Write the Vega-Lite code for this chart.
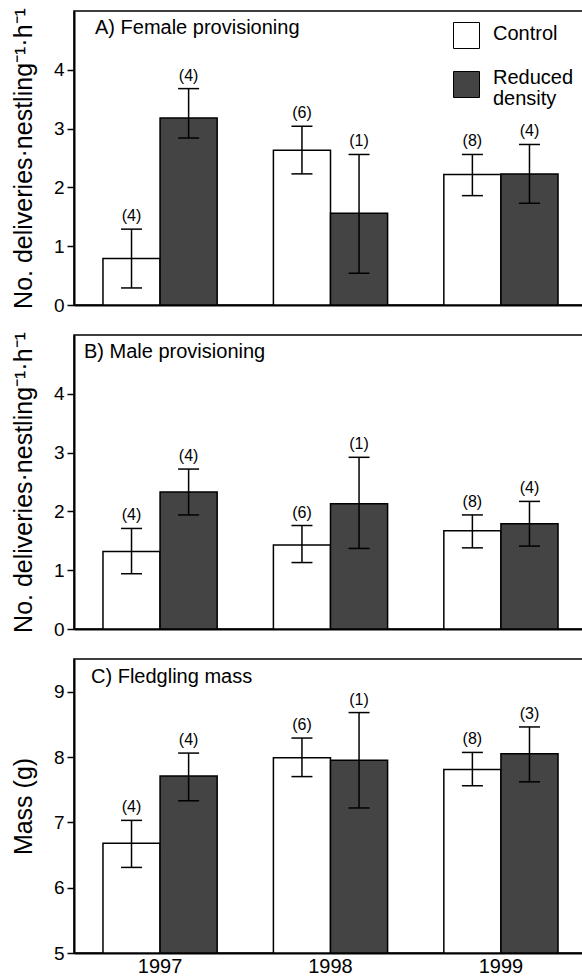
{
  "$schema": "https://vega.github.io/schema/vega-lite/v6.json",
  "padding": {"left": 10, "top": 6, "right": 0, "bottom": 0},
  "background": "white",
  "spacing": 30,
  "bounds": "flush",
  "datasets": {
    "d": [
      {"panel": "A", "year": "1997", "group": "Control", "mean": 0.79, "lo": 0.29, "hi": 1.29, "n": "(4)"},
      {"panel": "A", "year": "1997", "group": "Reduced density", "mean": 3.18, "lo": 2.84, "hi": 3.68, "n": "(4)"},
      {"panel": "A", "year": "1998", "group": "Control", "mean": 2.63, "lo": 2.23, "hi": 3.04, "n": "(6)"},
      {"panel": "A", "year": "1998", "group": "Reduced density", "mean": 1.56, "lo": 0.54, "hi": 2.56, "n": "(1)"},
      {"panel": "A", "year": "1999", "group": "Control", "mean": 2.22, "lo": 1.86, "hi": 2.56, "n": "(8)"},
      {"panel": "A", "year": "1999", "group": "Reduced density", "mean": 2.23, "lo": 1.73, "hi": 2.73, "n": "(4)"},
      {"panel": "B", "year": "1997", "group": "Control", "mean": 1.32, "lo": 0.94, "hi": 1.71, "n": "(4)"},
      {"panel": "B", "year": "1997", "group": "Reduced density", "mean": 2.33, "lo": 1.94, "hi": 2.72, "n": "(4)"},
      {"panel": "B", "year": "1998", "group": "Control", "mean": 1.43, "lo": 1.13, "hi": 1.76, "n": "(6)"},
      {"panel": "B", "year": "1998", "group": "Reduced density", "mean": 2.13, "lo": 1.37, "hi": 2.92, "n": "(1)"},
      {"panel": "B", "year": "1999", "group": "Control", "mean": 1.67, "lo": 1.38, "hi": 1.94, "n": "(8)"},
      {"panel": "B", "year": "1999", "group": "Reduced density", "mean": 1.79, "lo": 1.41, "hi": 2.17, "n": "(4)"},
      {"panel": "C", "year": "1997", "group": "Control", "mean": 6.68, "lo": 6.31, "hi": 7.03, "n": "(4)"},
      {"panel": "C", "year": "1997", "group": "Reduced density", "mean": 7.71, "lo": 7.33, "hi": 8.06, "n": "(4)"},
      {"panel": "C", "year": "1998", "group": "Control", "mean": 7.99, "lo": 7.70, "hi": 8.29, "n": "(6)"},
      {"panel": "C", "year": "1998", "group": "Reduced density", "mean": 7.95, "lo": 7.22, "hi": 8.68, "n": "(1)"},
      {"panel": "C", "year": "1999", "group": "Control", "mean": 7.81, "lo": 7.56, "hi": 8.07, "n": "(8)"},
      {"panel": "C", "year": "1999", "group": "Reduced density", "mean": 8.05, "lo": 7.62, "hi": 8.46, "n": "(3)"}
    ]
  },
  "resolve": {"legend": {"fill": "independent", "stroke": "independent"}, "scale": {"y": "independent"}},
  "vconcat": [
    {
      "width": 513, "height": 294,
      "data": {"name": "d"},
      "transform": [{"filter": "datum.panel == 'A'"}],
      "title": {"text": "A) Female provisioning", "anchor": "start", "frame": "group", "baseline": "top", "offset": -30, "dx": 21, "fontSize": 20, "fontWeight": "normal", "color": "black"},
      "encoding": {
        "x": {"field": "year", "type": "nominal", "scale": {"paddingInner": 0.33, "paddingOuter": 0.17}, "axis": {"labels": false, "ticks": false, "title": null}},
        "xOffset": {"field": "group", "type": "nominal", "sort": ["Control", "Reduced density"], "scale": {"paddingInner": 0, "paddingOuter": 0}}
      },
      "layer": [
        {
          "mark": {"type": "bar", "strokeWidth": 1.5},
          "encoding": {
            "y": {"field": "mean", "type": "quantitative", "title": "No. deliveries·nestling⁻¹·h⁻¹", "scale": {"domain": [0, 5], "nice": false}, "axis": {"values": [0, 0.5, 1, 1.5, 2, 2.5, 3, 3.5, 4, 4.5], "labelExpr": "datum.value % 1 == 0 ? format(datum.value, 'd') : ''", "titlePadding": 17, "labelPadding": 3}},
            "fill": {"field": "group", "type": "nominal", "scale": {"domain": ["Control", "Reduced density"], "range": ["white", "#444444"]},
              "legend": {"orient": "none", "legendX": 379, "legendY": 11, "title": null, "symbolType": "square", "symbolSize": 676, "symbolStrokeWidth": 1, "labelFontSize": 20, "labelColor": "black", "labelOffset": 13, "rowPadding": 16, "labelLimit": 0, "padding": 0,
                "labelExpr": "datum.label == 'Reduced density' ? ['Reduced', 'density'] : datum.label",
                "encode": {"labels": {"update": {"lineHeight": {"value": 21}, "dy": {"signal": "datum.value == 'Reduced density' ? -7 : -2"}}}}}},
            "stroke": {"field": "group", "type": "nominal", "scale": {"domain": ["Control", "Reduced density"], "range": ["black", "black"]}, "legend": null}
          }
        },
        {"mark": {"type": "rule", "strokeWidth": 1.5, "color": "black"}, "encoding": {"y": {"field": "lo", "type": "quantitative", "title": "No. deliveries·nestling⁻¹·h⁻¹"}, "y2": {"field": "hi"}}},
        {"mark": {"type": "tick", "thickness": 1.5, "size": 21, "color": "black", "opacity": 1}, "encoding": {"y": {"field": "hi", "type": "quantitative", "title": "No. deliveries·nestling⁻¹·h⁻¹"}}},
        {"mark": {"type": "tick", "thickness": 1.5, "size": 21, "color": "black", "opacity": 1}, "encoding": {"y": {"field": "lo", "type": "quantitative", "title": "No. deliveries·nestling⁻¹·h⁻¹"}}},
        {"mark": {"type": "text", "baseline": "bottom", "dy": -5, "fontSize": 16, "color": "black"}, "encoding": {"y": {"field": "hi", "type": "quantitative", "title": "No. deliveries·nestling⁻¹·h⁻¹"}, "text": {"field": "n"}}}
      ]
    },
    {
      "width": 513, "height": 294,
      "data": {"name": "d"},
      "transform": [{"filter": "datum.panel == 'B'"}],
      "title": {"text": "B) Male provisioning", "anchor": "start", "frame": "group", "baseline": "top", "offset": -30, "dx": 10, "fontSize": 20, "fontWeight": "normal", "color": "black"},
      "encoding": {
        "x": {"field": "year", "type": "nominal", "scale": {"paddingInner": 0.33, "paddingOuter": 0.17}, "axis": {"labels": false, "ticks": false, "title": null}},
        "xOffset": {"field": "group", "type": "nominal", "sort": ["Control", "Reduced density"], "scale": {"paddingInner": 0, "paddingOuter": 0}}
      },
      "layer": [
        {
          "mark": {"type": "bar", "stroke": "black", "strokeWidth": 1.5},
          "encoding": {
            "y": {"field": "mean", "type": "quantitative", "title": "No. deliveries·nestling⁻¹·h⁻¹", "scale": {"domain": [0, 5], "nice": false}, "axis": {"values": [0, 0.5, 1, 1.5, 2, 2.5, 3, 3.5, 4, 4.5], "labelExpr": "datum.value % 1 == 0 ? format(datum.value, 'd') : ''", "titlePadding": 17, "labelPadding": 3}},
            "fill": {"field": "group", "type": "nominal", "scale": {"domain": ["Control", "Reduced density"], "range": ["white", "#444444"]}, "legend": null}
          }
        },
        {"mark": {"type": "rule", "strokeWidth": 1.5, "color": "black"}, "encoding": {"y": {"field": "lo", "type": "quantitative", "title": "No. deliveries·nestling⁻¹·h⁻¹"}, "y2": {"field": "hi"}}},
        {"mark": {"type": "tick", "thickness": 1.5, "size": 21, "color": "black", "opacity": 1}, "encoding": {"y": {"field": "hi", "type": "quantitative", "title": "No. deliveries·nestling⁻¹·h⁻¹"}}},
        {"mark": {"type": "tick", "thickness": 1.5, "size": 21, "color": "black", "opacity": 1}, "encoding": {"y": {"field": "lo", "type": "quantitative", "title": "No. deliveries·nestling⁻¹·h⁻¹"}}},
        {"mark": {"type": "text", "baseline": "bottom", "dy": -5, "fontSize": 16, "color": "black"}, "encoding": {"y": {"field": "hi", "type": "quantitative", "title": "No. deliveries·nestling⁻¹·h⁻¹"}, "text": {"field": "n"}}}
      ]
    },
    {
      "width": 513, "height": 294,
      "data": {"name": "d"},
      "transform": [{"filter": "datum.panel == 'C'"}],
      "title": {"text": "C) Fledgling mass", "anchor": "start", "frame": "group", "baseline": "top", "offset": -28, "dx": 17, "fontSize": 20, "fontWeight": "normal", "color": "black"},
      "encoding": {
        "x": {"field": "year", "type": "nominal", "scale": {"paddingInner": 0.33, "paddingOuter": 0.17}, "axis": {"labels": true, "ticks": false, "title": null, "labelAngle": 0, "labelFontSize": 20, "labelPadding": 3}},
        "xOffset": {"field": "group", "type": "nominal", "sort": ["Control", "Reduced density"], "scale": {"paddingInner": 0, "paddingOuter": 0}}
      },
      "layer": [
        {
          "mark": {"type": "bar", "stroke": "black", "strokeWidth": 1.5},
          "encoding": {
            "y": {"field": "mean", "type": "quantitative", "title": "Mass (g)", "scale": {"domain": [5, 9.5], "nice": false, "zero": false}, "axis": {"values": [5, 5.5, 6, 6.5, 7, 7.5, 8, 8.5, 9], "labelExpr": "datum.value % 1 == 0 ? format(datum.value, 'd') : ''", "titlePadding": 17, "labelPadding": 3}},
            "y2": {"datum": 5},
            "fill": {"field": "group", "type": "nominal", "scale": {"domain": ["Control", "Reduced density"], "range": ["white", "#444444"]}, "legend": null}
          }
        },
        {"mark": {"type": "rule", "strokeWidth": 1.5, "color": "black"}, "encoding": {"y": {"field": "lo", "type": "quantitative", "title": "Mass (g)"}, "y2": {"field": "hi"}}},
        {"mark": {"type": "tick", "thickness": 1.5, "size": 21, "color": "black", "opacity": 1}, "encoding": {"y": {"field": "hi", "type": "quantitative", "title": "Mass (g)"}}},
        {"mark": {"type": "tick", "thickness": 1.5, "size": 21, "color": "black", "opacity": 1}, "encoding": {"y": {"field": "lo", "type": "quantitative", "title": "Mass (g)"}}},
        {"mark": {"type": "text", "baseline": "bottom", "dy": -5, "fontSize": 16, "color": "black"}, "encoding": {"y": {"field": "hi", "type": "quantitative", "title": "Mass (g)"}, "text": {"field": "n"}}}
      ]
    }
  ],
  "config": {
    "font": "Liberation Sans",
    "view": {"stroke": "black", "strokeWidth": 1.5},
    "axis": {"domainColor": "black", "domainWidth": 2, "tickColor": "black", "tickWidth": 1.5, "tickSize": 7, "labelColor": "black", "titleColor": "black", "grid": false, "labelFontSize": 19, "titleFontSize": 25, "titleFontWeight": "normal"},
    "legend": {"labelFont": "Liberation Sans"}
  }
}
